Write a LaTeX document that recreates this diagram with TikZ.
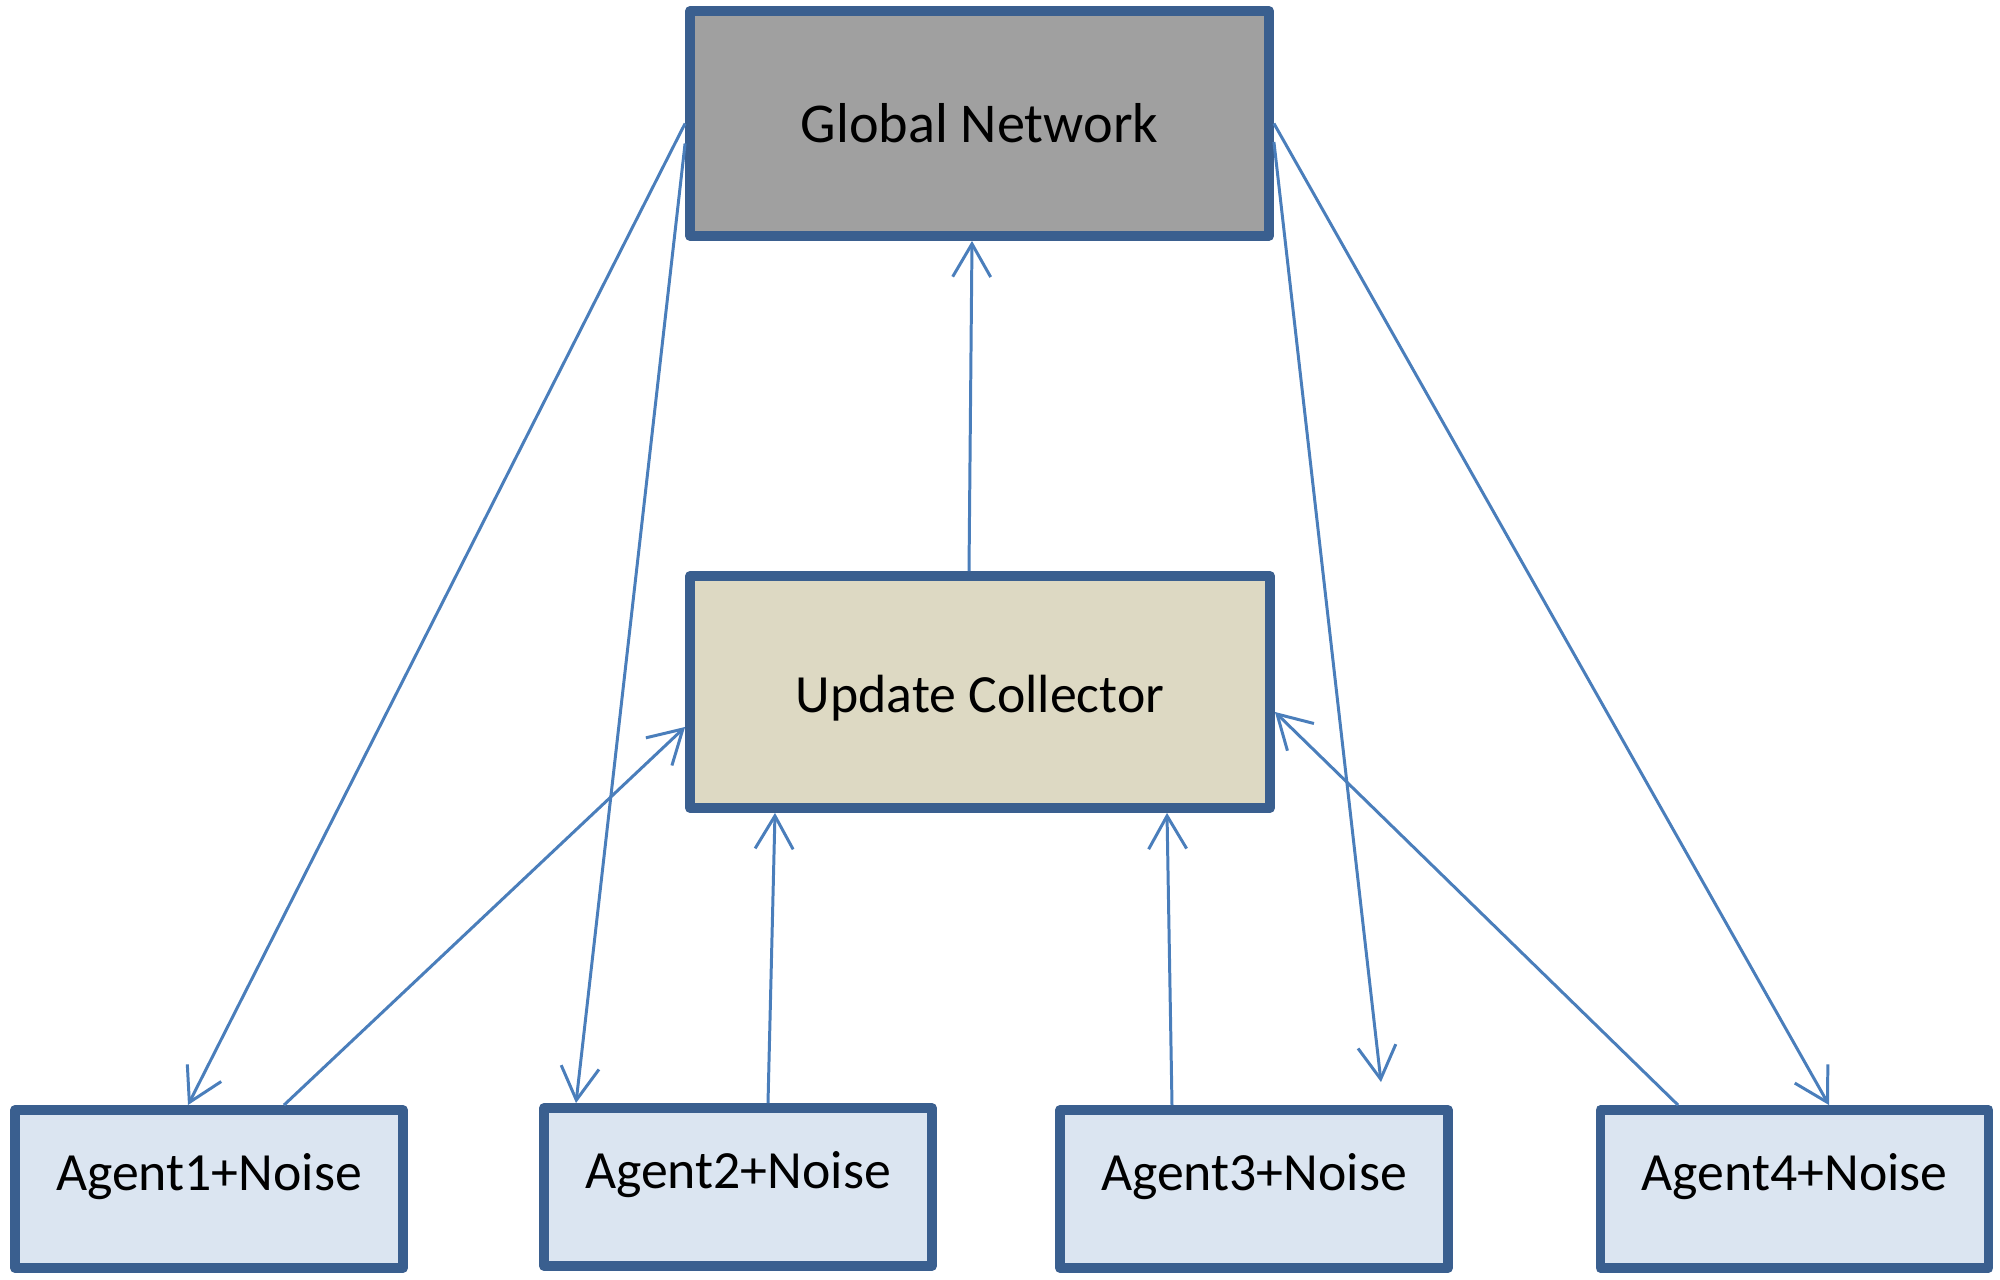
\documentclass[tikz,border=0pt]{standalone}
\usepackage{fontspec}
\setmainfont{Carlito}
\usepackage{tikz}
\usetikzlibrary{arrows.meta}

\definecolor{boxline}{HTML}{3A5F8F}
\definecolor{gnfill}{HTML}{A0A0A0}
\definecolor{ucfill}{HTML}{DDD9C3}
\definecolor{agfill}{HTML}{DBE5F1}
\definecolor{linkcol}{HTML}{4A7EBB}

\begin{document}
\begin{tikzpicture}[
        box/.style={shape=rectangle,draw=boxline,line width=2.8pt,line join=round,
            font=\fontsize{15.3}{18}\selectfont},
        agent/.style={box,fill=agfill,minimum width=3.88cm,minimum height=1.58cm,text depth=0.34cm},
        link/.style={draw=linkcol,line width=0.85pt,->},
        >={Straight Barb[length=3.3mm,width=3.8mm]}]
        \useasboundingbox (0,0) rectangle (20,12.8);
        \node[box,fill=gnfill,minimum width=5.79cm,minimum height=2.25cm,font=\fontsize{16}{19}\selectfont] (G) at (9.795,11.565) {Global Network};
        \node[box,fill=ucfill,minimum width=5.80cm,minimum height=2.32cm,text height=0.5cm] (U) at (9.80,5.88) {Update Collector};
        \node[agent] (A1) at (2.09,0.91) {Agent1+Noise};
        \node[agent] (A2) at (7.38,0.93) {Agent2+Noise};
        \node[agent] (A3) at (12.54,0.91) {Agent3+Noise};
        \node[agent] (A4) at (17.945,0.91) {Agent4+Noise};


        \path (G.west) edge[link] ([xshift=-0.21cm]A1.north);
        \path ([yshift=-0.2cm]G.west) edge[link] ([xshift=-1.62cm]A2.north);
        \path ([yshift=-0.185cm]G.east) edge[link] ([xshift=1.27cm,yshift=0.23cm]A3.north);
        \path (G.east) edge[link] ([xshift=0.345cm]A4.north);
        \path ([xshift=-0.11cm]U.north) edge[link] ([xshift=-0.075cm]G.south);
        \path ([xshift=0.75cm]A1.north) edge[link] ([yshift=-0.35cm]U.west);
        \path ([xshift=0.30cm]A2.north) edge[link] ([xshift=-2.05cm]U.south);
        \path ([xshift=-0.82cm]A3.north) edge[link] ([xshift=1.87cm]U.south);
        \path ([xshift=-1.165cm]A4.north) edge[link] ([yshift=-0.2cm]U.east);
    \end{tikzpicture}
\end{document}
